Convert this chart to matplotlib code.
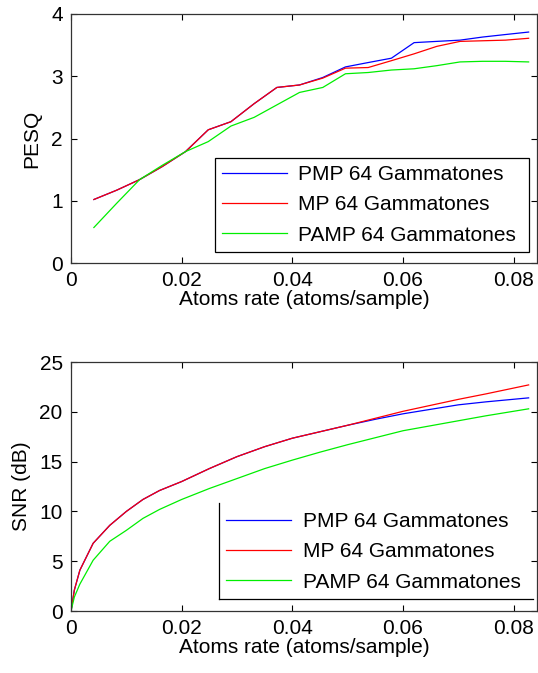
import numpy as np
import matplotlib
matplotlib.use('Agg')
import matplotlib.pyplot as plt
from matplotlib.lines import Line2D

plt.rcParams['font.family'] = ['Liberation Sans', 'DejaVu Sans']
plt.rcParams['font.size'] = 15

# PESQ (top)
rate_pesq = [0.00413, 0.00826, 0.0124, 0.0165, 0.0207, 0.0248, 0.0289, 0.0331, 0.0372, 0.0413,
             0.0455, 0.0496, 0.0537, 0.0579, 0.0620, 0.0661, 0.0703, 0.0744, 0.0785, 0.0827]
pesq_pmp = [1.02, 1.17, 1.34, 1.55, 1.79, 2.14, 2.27, 2.56, 2.82, 2.86,
            2.98, 3.15, 3.22, 3.29, 3.54, 3.56, 3.58, 3.63, 3.67, 3.71]
pesq_mp = [1.02, 1.17, 1.34, 1.55, 1.79, 2.14, 2.27, 2.56, 2.82, 2.86,
           2.97, 3.13, 3.14, 3.25, 3.36, 3.48, 3.56, 3.57, 3.58, 3.61]
pesq_pamp = [0.57, 0.96, 1.34, 1.57, 1.79, 1.95, 2.20, 2.34, 2.54, 2.74,
             2.82, 3.04, 3.06, 3.10, 3.12, 3.17, 3.23, 3.24, 3.24, 3.23]

# SNR (bottom)
rate_snr = [0.0, 0.0006, 0.0016, 0.004, 0.007, 0.010, 0.013, 0.016, 0.020, 0.025, 0.030,
            0.035, 0.040, 0.045, 0.050, 0.055, 0.060, 0.065, 0.070, 0.075, 0.0827]
snr_pmp = [0.0, 2.1, 4.1, 6.8, 8.6, 10.0, 11.2, 12.1, 13.0, 14.3, 15.5,
           16.5, 17.35, 18.0, 18.65, 19.25, 19.8, 20.25, 20.7, 21.0, 21.4]
snr_mp = [0.0, 2.1, 4.1, 6.8, 8.6, 10.0, 11.2, 12.1, 13.0, 14.3, 15.5,
          16.5, 17.35, 18.0, 18.65, 19.35, 20.05, 20.65, 21.25, 21.8, 22.7]
snr_pamp = [0.0, 1.4, 2.7, 5.1, 7.0, 8.1, 9.3, 10.2, 11.2, 12.3, 13.3,
            14.3, 15.15, 15.95, 16.7, 17.4, 18.1, 18.6, 19.1, 19.6, 20.3]

labels = ['PMP 64 Gammatones', 'MP 64 Gammatones', 'PAMP 64 Gammatones']
colors = ['#0000ff', '#ff0000', '#00ee00']

fig = plt.figure(figsize=(5.38, 6.73), dpi=100)
ax1 = fig.add_axes([0.132, 0.6092, 0.866, 0.370])
ax2 = fig.add_axes([0.132, 0.0921, 0.866, 0.370])


def style(ax):
    ax.set_xlim(0, 0.0842)
    ax.set_xticks([0, 0.02, 0.04, 0.06, 0.08])
    ax.set_xticklabels(['0', '0.02', '0.04', '0.06', '0.08'])
    ax.tick_params(direction='in', length=4, top=True, right=True, pad=6, labelsize=15)
    for s in ax.spines.values():
        s.set_color('#333333')
        s.set_linewidth(0.9)
    ax.set_xlabel('Atoms rate (atoms/sample)', labelpad=0)


for ys, c, l in zip([pesq_pmp, pesq_mp, pesq_pamp], colors, labels):
    ax1.plot(rate_pesq, ys, color=c, lw=0.9, label=l)
style(ax1)
ax1.set_ylim(0, 4)
ax1.set_yticks([0, 1, 2, 3, 4])
ax1.set_ylabel('PESQ', labelpad=7)
leg1 = ax1.legend(loc='lower left', bbox_to_anchor=(0.309, 0.044, 0.674, 0.386), mode='expand',
                  borderaxespad=0, fancybox=False, edgecolor='black', framealpha=1,
                  handlelength=3.1, handletextpad=0.55, labelspacing=0.55, borderpad=0.35,
                  fontsize=15)
leg1.get_frame().set_linewidth(0.9)

for ys, c, l in zip([snr_pmp, snr_mp, snr_pamp], colors, labels):
    ax2.plot(rate_snr, ys, color=c, lw=0.9, label=l)
style(ax2)
ax2.set_ylim(0, 25)
ax2.set_yticks([0, 5, 10, 15, 20, 25])
ax2.set_ylabel('SNR (dB)', labelpad=6)
leg2 = ax2.legend(loc='lower left', bbox_to_anchor=(0.318, 0.048, 0.673, 0.386), mode='expand',
                  borderaxespad=0, frameon=False, handlelength=3.1, handletextpad=0.55,
                  labelspacing=0.55, borderpad=0.35, fontsize=15)
ax2.add_line(Line2D([0.318, 0.318], [0.048, 0.434], transform=ax2.transAxes, color='black', lw=0.9))
ax2.add_line(Line2D([0.318, 0.991], [0.048, 0.048], transform=ax2.transAxes, color='black', lw=0.9))

fig.savefig('out.png', dpi=100)
